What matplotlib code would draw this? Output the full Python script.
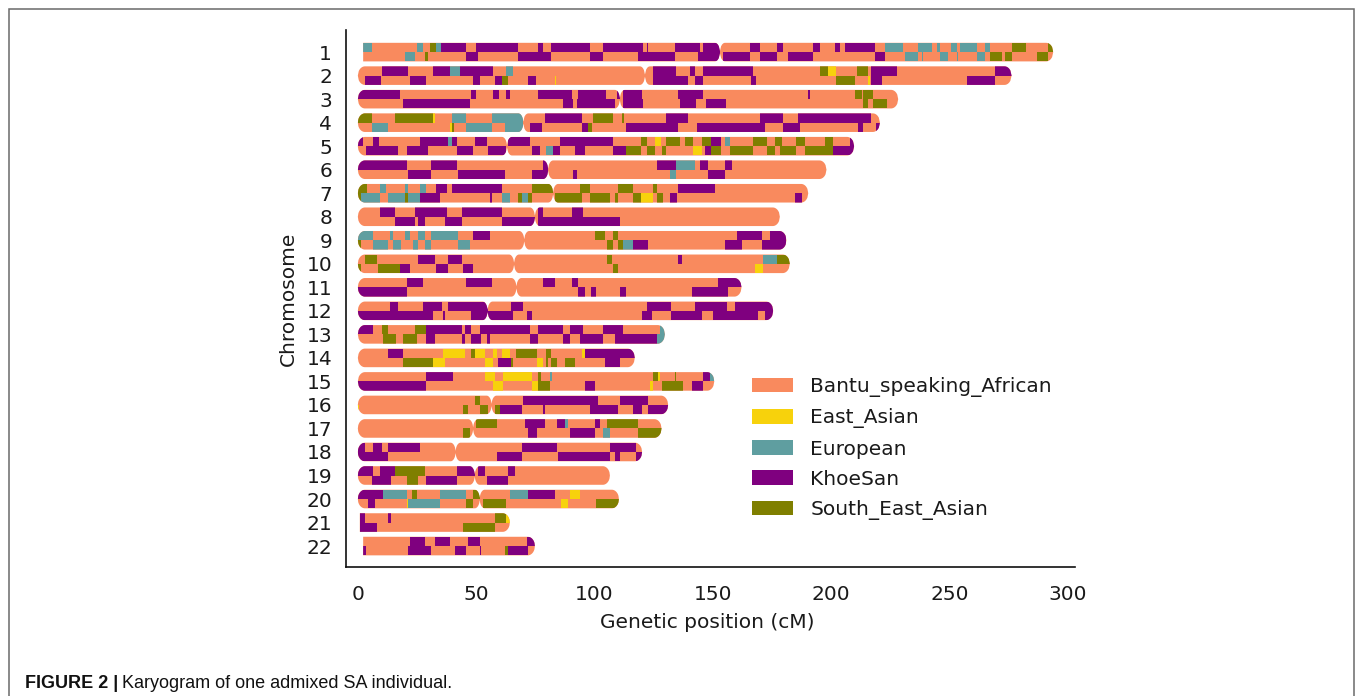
import numpy as np
import matplotlib
matplotlib.use("Agg")
import matplotlib.pyplot as plt
from matplotlib.patches import Polygon, Patch, Rectangle

# ---------------- data ----------------
ancestries = ["Bantu_speaking_African", "East_Asian", "European", "KhoeSan", "South_East_Asian"]
anc_codes = ["B", "E", "U", "K", "S"]
anc_colors = ["#F98A5E", "#F7D20C", "#5F9EA0", "#7F007F", "#7F7F00"]

chromosomes = list(range(1, 23))
chrom_start = [2.25, 0, 0, 0, 0, 0, 0, 0, 0, 0, 0, 0, 0, 0, 0, 0, 0, 0, 0, 0, 0.84, 2.25]
chrom_end = [293.8, 276.2, 228.3, 220.6, 209.7, 198.0, 190.3, 178.3, 181.1, 182.5, 162.1,
             175.5, 129.7, 117.0, 150.6, 131.1, 128.3, 120.1, 106.5, 110.3, 64.2, 74.8]
centromere = [153.0, 121.3, 110.7, 69.9, 63.0, 80.4, 82.5, 74.8, 70.3, 66.0, 67.0, 54.8,
              None, None, None, 56.5, 48.7, 41.3, 49.4, 51.5, None, None]

# non-Bantu tracts (start cM, end cM, ancestry code); haplotype A = upper strand
hap_a = {
    1: [(2.25, 5.8, "U"), (24.8, 27.6, "U"), (30.4, 33.2, "S"), (33.2, 35.1, "U"), (35.1, 45.9, "K"),
        (50.1, 67.7, "K"), (76.2, 78.3, "K"), (81.8, 98.0, "K"), (103.7, 120.6, "K"), (122.0, 122.7, "K"),
        (134.0, 144.5, "K"), (146.0, 153.0, "K"), (165.6, 169.9, "K"), (176.9, 179.7, "K"),
        (192.4, 195.2, "K"), (201.5, 203.7, "K"), (205.8, 218.4, "K"), (222.7, 230.4, "U"),
        (236.8, 242.4, "U"), (244.5, 245.9, "U"), (250.8, 253.0, "U"), (254.4, 261.4, "U"),
        (264.9, 267.0, "U"), (276.2, 282.5, "S"), (291.7, 293.8, "S")],
    2: [(10.0, 21.3, "K"), (31.8, 38.9, "K"), (38.9, 43.1, "U"), (43.1, 57.2, "K"), (62.8, 65.6, "U"),
        (124.8, 134.6, "K"), (140.3, 142.4, "K"), (145.9, 167.0, "K"), (195.2, 198.7, "S"),
        (198.7, 202.2, "E"), (210.7, 215.6, "S"), (217.0, 227.6, "K"), (269.2, 276.2, "K")],
    3: [(0, 17.7, "K"), (48.0, 50.1, "K"), (57.2, 59.6, "K"), (62.8, 64.2, "K"), (76.2, 90.3, "K"),
        (93.1, 105.0, "K"), (109.3, 110.7, "K"), (112.1, 119.9, "K"), (135.3, 145.9, "K"),
        (190.3, 191.0, "K"), (210.0, 212.8, "S"), (213.5, 217.7, "S")],
    4: [(0, 5.8, "S"), (15.6, 31.8, "S"), (31.8, 32.8, "E"), (39.6, 45.9, "U"), (56.5, 69.9, "U"),
        (79.0, 94.5, "K"), (99.4, 107.9, "S"), (111.4, 112.5, "S"), (130.4, 139.6, "K"),
        (169.9, 179.7, "K"), (186.0, 217.0, "K")],
    5: [(0, 2.25, "K"), (6.5, 8.9, "K"), (26.2, 38.2, "K"), (38.2, 39.6, "U"), (39.6, 41.7, "K"),
        (49.4, 54.4, "K"), (63.5, 72.7, "K"), (85.3, 107.9, "K"), (119.8, 122.0, "S"), (125.5, 128.0, "E"),
        (130.4, 136.0, "S"), (138.2, 141.7, "S"), (145.2, 149.4, "S"), (149.4, 153.6, "K"),
        (155.0, 157.2, "U"), (167.0, 172.7, "S"), (176.2, 179.0, "S"), (185.3, 188.9, "S"),
        (197.3, 200.8, "S"), (207.9, 209.7, "K")],
    6: [(0, 20.6, "K"), (31.1, 41.7, "K"), (78.3, 80.4, "K"), (126.2, 134.6, "K"), (134.6, 142.4, "U"),
        (144.5, 148.0, "K"), (155.0, 157.9, "K")],
    7: [(0, 3.7, "S"), (9.3, 12.1, "U"), (19.9, 21.0, "U"), (26.2, 29.0, "U"), (33.2, 37.5, "K"),
        (39.6, 60.7, "K"), (73.4, 82.5, "S"), (93.8, 98.0, "S"), (110.0, 116.3, "S"), (124.8, 126.6, "S"),
        (135.3, 150.8, "K")],
    8: [(9.3, 15.6, "K"), (24.1, 37.5, "K"), (43.8, 60.7, "K"), (76.2, 78.3, "K"), (90.3, 95.2, "K")],
    9: [(0, 6.5, "U"), (13.5, 14.9, "U"), (19.9, 22.0, "U"), (25.5, 28.3, "U"), (31.1, 42.4, "U"),
        (48.7, 55.8, "K"), (100.1, 104.4, "S"), (107.9, 110.0, "S"), (160.0, 170.6, "K"), (174.1, 181.1, "K")],
    10: [(2.96, 7.9, "S"), (25.5, 32.5, "K"), (38.2, 43.8, "K"), (105.1, 107.2, "S"), (135.3, 136.8, "K"),
         (171.3, 176.9, "U"), (176.9, 182.5, "S")],
    11: [(20.6, 27.6, "K"), (45.9, 56.5, "K"), (78.3, 83.2, "K"), (90.3, 93.1, "K"), (152.2, 162.1, "K")],
    12: [(13.5, 17.0, "K"), (27.6, 35.4, "K"), (38.2, 54.8, "K"), (64.9, 69.9, "K"), (122.0, 132.5, "K"),
         (142.4, 155.8, "K"), (159.3, 175.5, "K")],
    13: [(0, 6.5, "K"), (10.0, 12.8, "S"), (24.1, 29.0, "S"), (29.0, 43.8, "K"), (45.2, 48.0, "K"),
         (51.5, 72.7, "K"), (76.2, 86.8, "K"), (89.6, 95.2, "K"), (103.7, 112.1, "K"), (127.6, 129.7, "U")],
    14: [(12.8, 19.2, "K"), (36.0, 45.2, "E"), (48.0, 49.4, "S"), (49.4, 53.7, "E"), (57.2, 58.6, "E"),
         (60.7, 64.2, "E"), (67.0, 75.5, "S"), (79.7, 81.8, "S"), (94.5, 95.9, "E"), (95.9, 117.0, "K")],
    15: [(29.0, 40.3, "K"), (53.7, 57.9, "E"), (61.4, 73.4, "E"), (76.2, 77.3, "S"), (81.1, 82.1, "U"),
         (124.8, 126.9, "S"), (126.9, 127.6, "E"), (134.0, 134.6, "S"), (145.9, 148.7, "K"), (148.7, 150.6, "U")],
    16: [(49.4, 51.5, "S"), (69.9, 101.5, "K"), (110.7, 122.7, "K")],
    17: [(50.1, 58.6, "S"), (70.6, 79.0, "K"), (84.0, 87.5, "K"), (87.5, 88.9, "U"), (100.1, 102.3, "K"),
         (105.1, 118.4, "S")],
    18: [(0, 2.96, "K"), (6.5, 10.0, "K"), (12.8, 26.2, "K"), (69.2, 84.0, "K"), (106.5, 117.7, "K")],
    19: [(0, 6.5, "K"), (9.3, 15.6, "K"), (15.6, 28.3, "S"), (41.7, 49.4, "K"), (50.8, 53.7, "K"),
         (63.5, 66.3, "K")],
    20: [(0, 10.7, "K"), (10.7, 20.6, "U"), (22.7, 24.8, "S"), (34.6, 45.9, "U"), (48.7, 51.5, "S"),
         (64.2, 72.0, "U"), (72.0, 83.2, "K"), (89.6, 93.8, "E")],
    21: [(0.84, 2.96, "K"), (12.8, 13.9, "K"), (57.9, 62.8, "S"), (62.8, 64.2, "E")],
    22: [(22.0, 28.3, "K"), (32.5, 38.9, "K"), (46.6, 51.5, "K"), (71.3, 74.8, "K")],
}
hap_b = {
    1: [(19.9, 24.1, "U"), (28.3, 29.7, "S"), (45.9, 50.8, "K"), (67.7, 81.8, "K"), (98.0, 103.7, "K"),
        (118.4, 134.0, "K"), (143.8, 153.0, "K"), (154.4, 165.6, "K"), (169.9, 176.9, "K"),
        (181.8, 192.4, "K"), (218.4, 222.7, "K"), (231.1, 236.8, "U"), (238.2, 238.9, "U"),
        (245.9, 249.4, "U"), (253.0, 253.7, "U"), (261.4, 264.9, "U"), (267.0, 272.0, "S"),
        (273.4, 276.2, "S"), (286.8, 291.7, "S")],
    2: [(2.96, 9.7, "K"), (22.0, 28.6, "K"), (48.7, 51.5, "K"), (57.9, 60.7, "K"), (60.7, 63.5, "S"),
        (72.0, 75.1, "K"), (83.2, 83.7, "E"), (124.8, 139.6, "K"), (142.4, 145.9, "K"), (166.3, 168.4, "K"),
        (202.2, 210.0, "S"), (215.6, 216.3, "E"), (217.0, 221.3, "K"), (257.2, 269.2, "K")],
    3: [(19.2, 47.3, "K"), (86.8, 91.0, "K"), (92.4, 108.6, "K"), (112.1, 120.6, "K"), (136.0, 143.0, "K"),
        (147.3, 155.5, "K"), (213.5, 215.6, "S"), (217.7, 223.4, "S")],
    4: [(5.8, 12.8, "U"), (38.9, 39.6, "E"), (39.6, 40.7, "S"), (45.9, 56.5, "U"), (62.1, 69.9, "U"),
        (72.7, 77.6, "K"), (94.5, 97.3, "K"), (97.3, 99.0, "S"), (113.5, 135.3, "K"), (143.1, 172.0, "K"),
        (179.7, 186.8, "K"), (211.4, 213.5, "K"), (219.1, 220.6, "K")],
    5: [(3.66, 17.0, "K"), (20.6, 29.7, "K"), (41.7, 48.7, "K"), (55.1, 62.8, "K"), (73.4, 76.9, "K"),
        (79.7, 82.5, "U"), (82.5, 85.3, "K"), (91.7, 95.9, "K"), (107.9, 113.5, "K"), (113.5, 119.8, "S"),
        (122.0, 125.5, "S"), (128.3, 130.4, "S"), (141.7, 145.5, "E"), (146.6, 149.4, "K"),
        (149.4, 153.6, "S"), (157.2, 167.0, "S"), (172.7, 176.2, "S"), (178.3, 185.3, "S"),
        (188.9, 200.8, "S"), (200.8, 209.7, "K")],
    6: [(21.3, 31.1, "K"), (42.4, 62.1, "K"), (73.4, 80.4, "K"), (91.0, 92.8, "K"), (131.8, 134.6, "U"),
        (148.0, 155.0, "K")],
    7: [(0, 1.5, "S"), (1.5, 9.3, "U"), (12.8, 19.9, "U"), (19.9, 21.3, "S"), (21.3, 26.2, "U"),
        (26.2, 34.6, "K"), (55.8, 56.8, "K"), (60.7, 64.2, "U"), (67.7, 69.2, "S"), (69.2, 72.0, "U"),
        (72.0, 73.4, "S"), (83.2, 94.5, "S"), (98.0, 106.5, "S"), (108.6, 110.0, "S"), (116.3, 119.8, "S"),
        (119.8, 124.8, "E"), (126.6, 129.0, "S"), (131.8, 135.0, "K"), (184.6, 187.5, "K")],
    8: [(15.6, 24.1, "K"), (25.5, 28.3, "K"), (36.8, 43.8, "K"), (60.7, 74.8, "K"), (76.2, 110.7, "K")],
    9: [(0, 1.5, "S"), (6.5, 12.8, "U"), (14.9, 18.4, "U"), (23.4, 25.5, "U"), (28.3, 31.1, "U"),
        (42.4, 47.3, "U"), (105.1, 107.9, "S"), (110.0, 112.1, "S"), (112.1, 116.3, "U"),
        (116.3, 122.7, "K"), (155.1, 162.1, "K"), (170.6, 181.1, "K")],
    10: [(0, 1.5, "S"), (8.6, 17.7, "S"), (17.7, 22.0, "K"), (33.2, 37.9, "K"), (44.5, 48.7, "K"),
         (107.9, 110.0, "S"), (167.7, 171.0, "E")],
    11: [(0, 20.6, "K"), (93.1, 95.9, "K"), (98.7, 100.8, "K"), (110.7, 113.5, "K"), (141.0, 156.5, "K")],
    12: [(0, 31.8, "K"), (36.0, 37.0, "K"), (48.0, 65.6, "K"), (71.3, 73.4, "K"), (119.9, 124.1, "K"),
         (132.5, 145.2, "K"), (150.1, 169.2, "K"), (172.0, 175.5, "K")],
    13: [(10.7, 16.3, "S"), (19.2, 24.8, "S"), (29.0, 32.5, "K"), (43.8, 45.2, "K"), (48.0, 52.2, "K"),
         (54.4, 55.8, "K"), (72.7, 76.2, "K"), (86.8, 89.6, "K"), (93.8, 103.7, "K"), (108.6, 126.2, "K"),
         (126.2, 129.7, "U")],
    14: [(19.2, 31.8, "S"), (31.8, 36.8, "E"), (53.7, 57.2, "E"), (59.3, 64.9, "K"), (64.9, 65.6, "S"),
         (75.5, 78.3, "E"), (79.7, 80.4, "S"), (81.8, 84.0, "S"), (87.5, 91.7, "S"), (104.4, 110.7, "K")],
    15: [(0, 29.0, "K"), (57.2, 61.4, "E"), (73.4, 76.2, "E"), (76.2, 81.1, "S"), (95.9, 100.1, "K"),
         (123.4, 124.8, "E"), (128.3, 137.5, "S"), (141.0, 145.9, "K")],
    16: [(0, 0.6, "E"), (44.5, 46.6, "S"), (51.5, 55.1, "S"), (57.9, 60.0, "S"), (60.0, 69.2, "K"),
         (78.3, 79.0, "K"), (98.0, 110.0, "K"), (116.3, 119.9, "K"), (122.7, 131.1, "K")],
    17: [(44.5, 47.3, "S"), (72.0, 75.5, "K"), (89.6, 100.1, "K"), (103.7, 106.5, "U"), (118.4, 128.3, "S")],
    18: [(0, 12.8, "K"), (58.6, 69.2, "K"), (84.6, 106.5, "K"), (108.6, 110.7, "K"), (117.7, 120.1, "K")],
    19: [(5.8, 14.2, "K"), (20.6, 25.5, "S"), (29.0, 41.7, "K"), (54.4, 63.5, "K")],
    20: [(4.4, 7.2, "K"), (20.6, 21.3, "E"), (21.3, 34.6, "U"), (45.9, 48.7, "S"), (53.0, 62.8, "S"),
         (86.0, 88.6, "E"), (100.8, 110.3, "S")],
    21: [(0.84, 7.9, "K"), (44.5, 57.9, "S")],
    22: [(2.25, 3.66, "K"), (21.3, 31.1, "K"), (41.0, 45.9, "K"), (51.5, 52.2, "K"), (62.1, 63.5, "S"),
         (63.5, 72.0, "K")],
}

xtick_vals = [0, 50, 100, 150, 200, 250, 300]

# ---------------- drawing ----------------
W, H = 1355, 696
fig = plt.figure(figsize=(W / 100, H / 100), dpi=100)
ax = fig.add_axes([346 / W, 1 - 567 / H, (1075 - 346) / W, (567 - 30) / H])
ax.set_xlim(-5, 303)
ax.set_ylim(22.89, 0.06)

color_of = dict(zip(anc_codes, anc_colors))
BAR_H = 0.79
END_RX = 3.0
CEN_RX = 2.1
WAIST = 0.12


def arm_profile(x, a, b, rx_left, rx_right, flat_left):
    f = np.ones_like(x)
    if not flat_left:
        m = x < a + rx_left
        f[m] = np.sqrt(np.clip(1 - ((a + rx_left - x[m]) / rx_left) ** 2, 0, 1))
    m = x > b - rx_right
    f[m] = np.minimum(f[m], np.sqrt(np.clip(1 - ((x[m] - (b - rx_right)) / rx_right) ** 2, 0, 1)))
    return f


for i, c in enumerate(chromosomes):
    s, e, cen = chrom_start[i], chrom_end[i], centromere[i]
    flat = s > 0
    if cen is None:
        xs = np.linspace(s, e, 400)
        fs = arm_profile(xs, s, e, END_RX, END_RX, flat)
    else:
        x1 = np.linspace(s, cen, 300)
        f1 = arm_profile(x1, s, cen, END_RX, CEN_RX, flat)
        f1[x1 > cen - CEN_RX] = np.maximum(f1[x1 > cen - CEN_RX], WAIST)
        x2 = np.linspace(cen, e, 300)
        f2 = arm_profile(x2, cen, e, CEN_RX, END_RX, False)
        f2[x2 < cen + CEN_RX] = np.maximum(f2[x2 < cen + CEN_RX], WAIST)
        xs = np.concatenate([x1, x2])
        fs = np.concatenate([f1, f2])
    top = np.column_stack([xs, c - BAR_H / 2 * fs])
    bot = np.column_stack([xs[::-1], (c + BAR_H / 2 * fs)[::-1]])
    outline = Polygon(np.vstack([top, bot]), closed=True, facecolor=color_of["B"],
                      edgecolor="none", linewidth=0, zorder=2)
    ax.add_patch(outline)
    for hap, y0 in ((hap_a[c], c - BAR_H / 2), (hap_b[c], c)):
        if not hap:
            continue
        lefts = [t[0] for t in hap]
        widths = [t[1] - t[0] for t in hap]
        cols = [color_of[t[2]] for t in hap]
        bars = ax.barh([y0] * len(hap), widths, left=lefts, height=BAR_H / 2, align="edge",
                       color=cols, edgecolor="none", linewidth=0, zorder=3)
        for r in bars:
            r.set_clip_path(outline)

ax.set_yticks(chromosomes)
ax.set_yticklabels([str(c) for c in chromosomes])
ax.set_xticks(xtick_vals)
ax.set_xticklabels([str(v) for v in xtick_vals])
ax.tick_params(axis="both", length=0, labelsize=14.5, colors="#1a1a1a")
ax.tick_params(axis="x", pad=13)
ax.tick_params(axis="y", pad=10)
for side in ("top", "right"):
    ax.spines[side].set_visible(False)
for side in ("left", "bottom"):
    ax.spines[side].set_linewidth(1.2)
    ax.spines[side].set_color("#111111")

ax.set_xlabel("Genetic position (cM)", fontsize=14.5, color="#1a1a1a")
ax.set_ylabel("Chromosome", fontsize=14.5, color="#1a1a1a")
ax.xaxis.set_label_coords(0.495, -0.085)
ax.yaxis.set_label_coords(-0.066, 0.5)

handles = [Patch(facecolor=col, edgecolor="none") for col in anc_colors]
leg = fig.legend(handles, ancestries, loc="upper left", bbox_to_anchor=(752 / W, 1 - 377 / H),
                 frameon=False, fontsize=14.5, handlelength=2.05, handleheight=0.75,
                 handletextpad=0.85, labelspacing=0.56, borderpad=0, borderaxespad=0)
for t in leg.get_texts():
    t.set_color("#1a1a1a")

# frame around the figure panel
fig.patches.append(Rectangle((9 / W, -0.05), (1353.5 - 9) / W, 1.05 - 9 / H, transform=fig.transFigure,
                             fill=False, edgecolor="#6a6a6a", linewidth=1.1))

# caption
cap_y = 1 - 688 / H
t1 = fig.text(25 / W, cap_y, "FIGURE 2 |", fontsize=13, fontweight="bold",
              family="Liberation Sans", va="baseline", color="#111111")
fig.canvas.draw()
bb = t1.get_window_extent(renderer=fig.canvas.get_renderer())
fig.text(bb.x1 / W + 4 / W, cap_y, "Karyogram of one admixed SA individual.", fontsize=13,
         family="Liberation Sans", va="baseline", color="#111111")

fig.savefig("out.png", dpi=100)
